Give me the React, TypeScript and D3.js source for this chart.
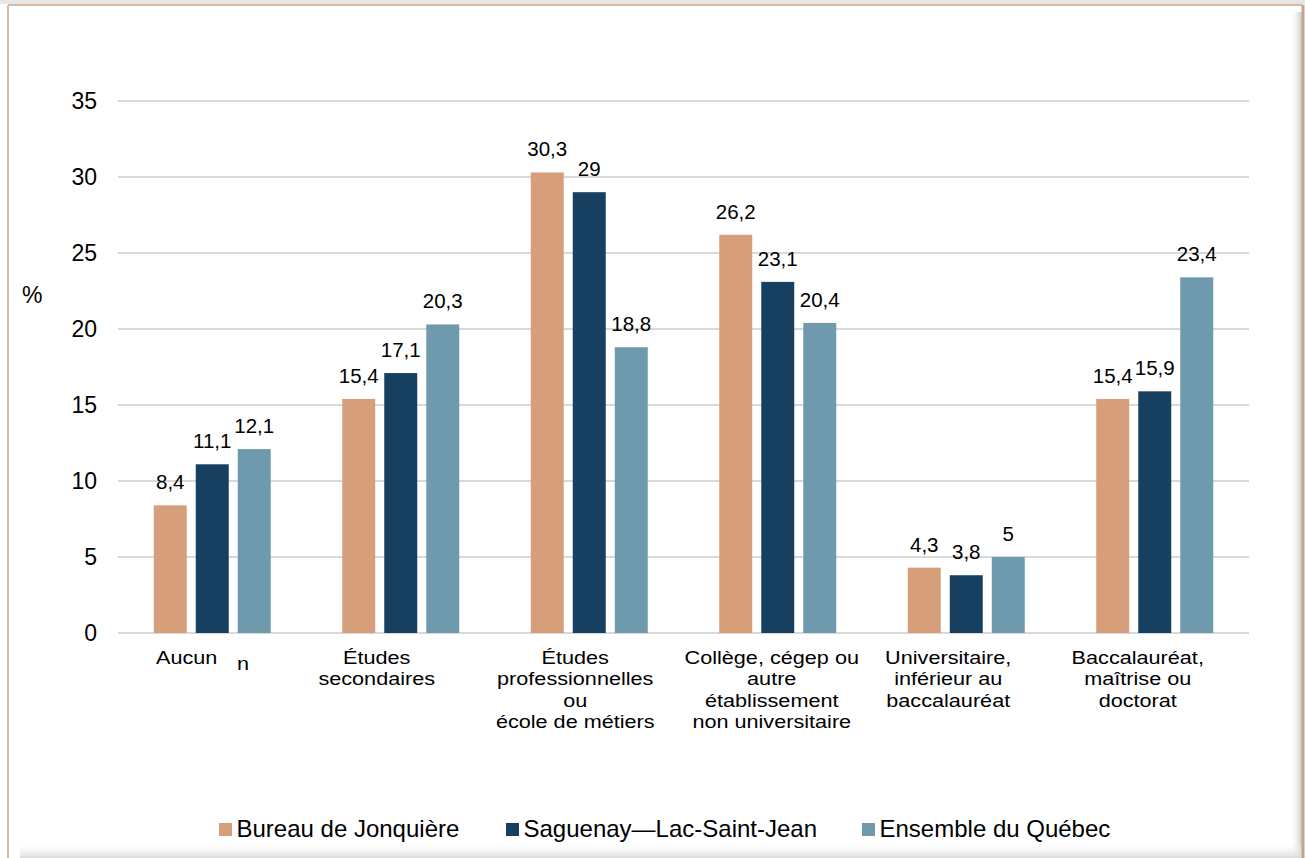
import React from "react";
import * as d3 from "d3";

const categories: string[][] = [
  ["Aucun"],
  ["Études", "secondaires"],
  ["Études", "professionnelles", "ou", "école de métiers"],
  ["Collège, cégep ou", "autre", "établissement", "non universitaire"],
  ["Universitaire,", "inférieur au", "baccalauréat"],
  ["Baccalauréat,", "maîtrise ou", "doctorat"],
];
const seriesNames = ["Bureau de Jonquière", "Saguenay\u2014Lac-Saint-Jean", "Ensemble du Québec"];
const jonquiere = [8.4, 15.4, 30.3, 26.2, 4.3, 15.4];
const saguenay = [11.1, 17.1, 29, 23.1, 3.8, 15.9];
const quebec = [12.1, 20.3, 18.8, 20.4, 5, 23.4];
const yTicks = [0, 5, 10, 15, 20, 25, 30, 35];

const colors = ["#d69e7b", "#173f5f", "#6f9aae"];
const labelShift = [-27, -24, -14, -6, -18, -17];

const W = 1305;
const H = 858;
const left = 118;
const right = 1249;
const top = 101;
const bottom = 633;
const FONT = "'Liberation Sans', Arial, sans-serif";
const CAT_SX = 1.17;

export default function App() {
  const series = [jonquiere, saguenay, quebec];
  const x0 = d3
    .scaleBand<number>()
    .domain(categories.map((_, i) => i))
    .range([left, right])
    .paddingInner(0)
    .paddingOuter(0);
  const half = 58.5;
  const x1 = d3
    .scaleBand<number>()
    .domain([0, 1, 2])
    .range([x0.bandwidth() / 2 - half, x0.bandwidth() / 2 + half])
    .paddingInner(0.215)
    .paddingOuter(0);
  const y = d3.scaleLinear().domain([0, 35]).range([bottom, top]);
  const fmt = (v: number) => String(v).replace(".", ",");

  const legendX = [219, 506, 862];

  return (
    <svg
      width={W}
      height={H}
      style={{ position: "absolute", left: 0, top: 0, fontFamily: FONT }}
    >
      <defs>
        <linearGradient id="shadowR" x1="0" x2="1" y1="0" y2="0">
          <stop offset="0" stopColor="#ffffff" stopOpacity="0" />
          <stop offset="1" stopColor="#c8c8c8" stopOpacity="1" />
        </linearGradient>
        <linearGradient id="shadowB" x1="0" x2="0" y1="0" y2="1">
          <stop offset="0" stopColor="#ffffff" stopOpacity="0" />
          <stop offset="1" stopColor="#dcdcdc" stopOpacity="1" />
        </linearGradient>
      </defs>
      <rect x={0} y={0} width={W} height={H} fill="#ffffff" />
      <rect x={0} y={0} width={W} height={4} fill="#e6e6e6" />
      <rect x={1290} y={12} width={12} height={H - 12} fill="url(#shadowR)" />
      <rect x={20} y={842} width={1282} height={16} fill="url(#shadowB)" />
      <line x1={8} y1={5} x2={8} y2={H} stroke="#dcb9a2" strokeWidth={2} />
      <line x1={8} y1={5} x2={1303} y2={5} stroke="#dcb9a2" strokeWidth={2} />
      <line x1={1303} y1={5} x2={1303} y2={H} stroke="#c9a28a" strokeWidth={3} />

      {yTicks.map((t) => (
        <g key={t}>
          <line
            x1={left}
            x2={right}
            y1={y(t)}
            y2={y(t)}
            stroke="#d9d9d9"
            strokeWidth={2}
          />
          <text
            x={97}
            y={y(t)}
            dy="0.35em"
            textAnchor="end"
            fontSize={23}
            fill="#000"
          >
            {t}
          </text>
        </g>
      ))}
      <text x={22} y={295} dy="0.35em" fontSize={23} fill="#000">
        %
      </text>

      {categories.map((_, ci) =>
        series.map((s, si) => {
          const bx = (x0(ci) as number) + (x1(si) as number);
          const bw = x1.bandwidth();
          const v = s[ci];
          return (
            <g key={`${ci}-${si}`}>
              <rect
                x={bx}
                y={y(v)}
                width={bw}
                height={y(0) - y(v)}
                fill={colors[si]}
              />
              <text
                x={bx + bw / 2}
                y={y(v) - 16}
                textAnchor="middle"
                fontSize={20.5}
                fill="#000"
              >
                {fmt(v)}
              </text>
            </g>
          );
        })
      )}

      {categories.map((lines, ci) => {
        const cx = (x0(ci) as number) + x0.bandwidth() / 2 + labelShift[ci];
        const ax = ci === 0 ? 156 : cx;
        return (
          <g key={ci} transform={`translate(${ax},664) scale(${CAT_SX},1)`}>
            <text
              x={0}
              y={0}
              textAnchor={ci === 0 ? "start" : "middle"}
              fontSize={18.5}
              fill="#000"
            >
              {lines.map((l, li) => (
                <tspan key={li} x={0} dy={li === 0 ? 0 : 21.3}>
                  {l}
                </tspan>
              ))}
            </text>
          </g>
        );
      })}
      <g transform={`translate(237,670) scale(${CAT_SX},1)`}>
        <text x={0} y={0} fontSize={18.5} fill="#000">
          n
        </text>
      </g>

      {seriesNames.map((n, i) => (
        <g key={n}>
          <rect x={legendX[i]} y={823} width={13} height={13} fill={colors[i]} />
          <text x={legendX[i] + 17.5} y={836.5} fontSize={24} fill="#000">
            {n}
          </text>
        </g>
      ))}
    </svg>
  );
}
